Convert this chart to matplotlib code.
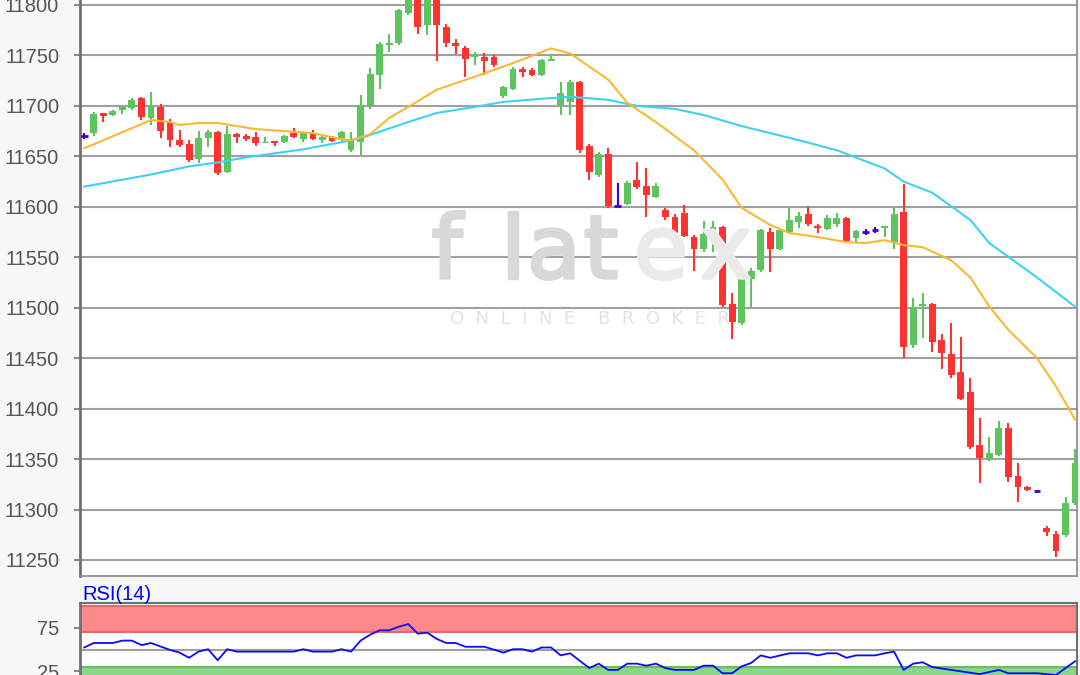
import matplotlib
matplotlib.use("Agg")
import matplotlib.pyplot as plt
import matplotlib.patheffects as pe

# candles (index 0 = first bar on the left)
opens = [11670, 11673, 11693, 11691, 11696, 11698, 11708, 11688, 11699, 11684,
         11666, 11662, 11647, 11668, 11674, 11634, 11672, 11670, 11669, 11663,
         11665, 11664, 11673, 11667, 11673, 11666, 11669, 11666, 11656, 11664,
         11700, 11731, 11760, 11762, 11792, 11810, 11780, 11808, 11778, 11762,
         11757, 11748, 11748, 11748, 11710, 11717, 11737, 11736, 11731, 11744,
         11701, 11704, 11724, 11660, 11632, 11652, 11601, 11603, 11627, 11621,
         11610, 11597, 11590, 11594, 11570, 11558, 11572, 11580, 11504, 11485,
         11528, 11537, 11575, 11558, 11575, 11585, 11593, 11581, 11578, 11583,
         11589, 11569, 11575, 11577, 11579, 11565, 11595, 11463, 11502, 11504,
         11468, 11454, 11436, 11416, 11364, 11350, 11354, 11381, 11333, 11322,
         11318, 11282, 11276, 11275, 11306]
highs = [11673, 11694, 11693, 11696, 11700, 11708, 11709, 11714, 11702, 11687,
         11676, 11666, 11675, 11676, 11675, 11680, 11673, 11672, 11674, 11669,
         11665, 11671, 11678, 11674, 11676, 11670, 11670, 11675, 11674, 11711,
         11738, 11763, 11771, 11796, 11818, 11815, 11812, 11812, 11781, 11766,
         11759, 11753, 11752, 11750, 11720, 11739, 11739, 11738, 11746, 11750,
         11724, 11726, 11725, 11662, 11654, 11658, 11624, 11626, 11644, 11638,
         11624, 11599, 11593, 11602, 11572, 11586, 11586, 11581, 11515, 11536,
         11539, 11578, 11579, 11578, 11600, 11595, 11600, 11583, 11592, 11594,
         11590, 11577, 11578, 11580, 11580, 11600, 11623, 11510, 11515, 11505,
         11474, 11485, 11471, 11430, 11391, 11372, 11388, 11386, 11346, 11323,
         11318, 11284, 11279, 11312, 11360]
lows = [11667, 11670, 11684, 11690, 11692, 11696, 11686, 11681, 11668, 11659,
        11659, 11644, 11643, 11659, 11632, 11633, 11663, 11665, 11660, 11663,
        11660, 11663, 11668, 11664, 11666, 11663, 11664, 11665, 11654, 11651,
        11697, 11717, 11753, 11760, 11790, 11771, 11770, 11744, 11758, 11751,
        11729, 11741, 11731, 11739, 11708, 11716, 11729, 11730, 11730, 11744,
        11691, 11691, 11653, 11627, 11630, 11599, 11600, 11602, 11618, 11590,
        11609, 11587, 11567, 11570, 11536, 11555, 11555, 11501, 11469, 11483,
        11501, 11535, 11535, 11557, 11574, 11579, 11581, 11574, 11577, 11580,
        11565, 11565, 11572, 11574, 11570, 11558, 11450, 11460, 11470, 11456,
        11439, 11430, 11409, 11360, 11326, 11348, 11353, 11327, 11307, 11318,
        11318, 11274, 11253, 11273, 11304]
closes = [11670, 11692, 11690, 11695, 11699, 11706, 11689, 11699, 11675, 11666,
          11661, 11646, 11668, 11674, 11633, 11672, 11669, 11667, 11663, 11664,
          11663, 11670, 11669, 11673, 11667, 11669, 11665, 11674, 11667, 11701,
          11732, 11761, 11762, 11795, 11812, 11778, 11806, 11780, 11762, 11759,
          11746, 11751, 11744, 11741, 11719, 11737, 11734, 11731, 11745, 11746,
          11713, 11724, 11656, 11634, 11652, 11601, 11601, 11624, 11620, 11612,
          11621, 11590, 11571, 11571, 11558, 11573, 11580, 11503, 11486, 11529,
          11536, 11577, 11558, 11577, 11587, 11591, 11583, 11579, 11589, 11589,
          11566, 11576, 11575, 11577, 11580, 11593, 11461, 11501, 11504, 11466,
          11455, 11433, 11410, 11362, 11351, 11356, 11381, 11332, 11322, 11319,
          11318, 11278, 11259, 11306, 11346]

# moving averages (bar index, value)
ma_fast_idx = [0, 7, 9, 10, 12, 14, 16, 18, 21, 24, 27, 28, 30, 32, 34, 37, 41, 44,
               46, 49, 51, 55, 57, 60, 64, 67, 69, 72, 74, 77, 80, 82, 84, 86, 88,
               91, 93, 95, 97, 100, 102, 104]
ma_fast = [11658, 11686, 11684, 11681, 11683, 11683, 11680, 11677, 11675, 11673,
           11667, 11666, 11672, 11688, 11699, 11716, 11729, 11739, 11746, 11757,
           11752, 11726, 11703, 11684, 11656, 11627, 11599, 11582, 11574, 11570,
           11565, 11564, 11567, 11562, 11560, 11547, 11530, 11501, 11478, 11450,
           11422, 11389]
ma_slow_idx = [0, 7, 11, 14, 17, 23, 27, 29, 34, 37, 41, 44, 48, 51, 55, 58, 62,
               65, 69, 75, 79, 84, 86, 89, 93, 95, 100, 104]
ma_slow = [11620, 11632, 11640, 11644, 11649, 11657, 11664, 11668, 11684, 11693,
           11699, 11704, 11707, 11709, 11706, 11700, 11697, 11691, 11680, 11666,
           11656, 11638, 11625, 11614, 11587, 11564, 11530, 11501]

# RSI(14)
rsi_idx = [0, 1, 3, 4, 5, 6, 7, 9, 10, 11, 12, 13, 14, 15, 16, 22, 23, 24, 26, 27,
           28, 29, 30, 31, 32, 33, 34, 35, 36, 37, 38, 39, 40, 42, 44, 45, 46, 47,
           48, 49, 50, 51, 53, 54, 55, 56, 57, 58, 59, 60, 61, 62, 64, 65, 66, 67,
           68, 69, 70, 71, 72, 74, 76, 77, 78, 79, 80, 81, 83, 84, 85, 86, 87, 88,
           89, 91, 94, 96, 97, 100, 102, 103, 104]
rsi = [52.3, 57.4, 57.4, 60.1, 60.1, 55, 57.4, 49.5, 46.5, 40.6, 47.6, 50.3, 37.8,
       50.3, 47.6, 47.6, 50.3, 47.6, 47.6, 50.3, 47.6, 60.1, 66.8, 71.8, 71.8, 75.8,
       78.9, 68, 69.1, 62, 57.4, 57.4, 53.1, 53.1, 46.5, 50.3, 50.3, 47.6, 52.3,
       52.3, 43.3, 45.7, 28.9, 33.9, 26.8, 26.8, 33.9, 33.9, 31.6, 33.9, 28.9, 26.8,
       26.8, 31.6, 31.6, 23, 23, 30.8, 34.7, 43.3, 40.6, 45.7, 45.7, 43.3, 45.7,
       45.7, 40.6, 43.3, 43.3, 45.7, 47.6, 26.8, 33.9, 35.5, 30, 26.8, 22, 26.8, 23,
       23, 21, 28.9, 36.6]

price_ticks = list(range(11250, 11801, 50))
rsi_ticks = [25, 75]

W, H = 1080, 675
GREEN = "#5ec45e"
RED = "#ff3232"
FLAT = "#3a00d0"
TICK_COL = "#555555"

plt.rcParams["font.family"] = ["Liberation Sans", "DejaVu Sans"]

fig = plt.figure(figsize=(W / 100, H / 100), dpi=100, facecolor="#f7f7f7")


def fbox(x0, y0, x1, y1):
    # pixel box (top-left origin) -> figure fraction
    return [x0 / W, 1 - y1 / H, (x1 - x0) / W, (y1 - y0) / H]


def fpt(x, y):
    return x / W, 1 - y / H


ax = fig.add_axes(fbox(80, -5, 1077, 576))
ax.set_facecolor("white")

# watermark behind the candles
ax.patch.set_alpha(0)
fig.patches.append(plt.Rectangle((80 / W, 1 - 576 / H), 997 / W, 576 / H,
                                 transform=fig.transFigure, facecolor="white",
                                 edgecolor="none", zorder=-1))
for ch, x, col in [("f", 447, "#d8d8d8"), ("l", 513, "#d8d8d8"), ("a", 554, "#d8d8d8"),
                   ("t", 601, "#d8d8d8"), ("e", 661, "#eaeaea"), ("x", 726, "#eaeaea")]:
    fig.text(*fpt(x, 278), ch, color=col, fontsize=63, ha="center", va="baseline",
             zorder=0, family="DejaVu Sans",
             path_effects=[pe.withStroke(linewidth=2.5, foreground=col)])
fig.text(*fpt(590, 324), "O  N  L  I  N  E    B  R  O  K  E  R", fontsize=13,
         color="#e3e3e3", ha="center", va="baseline", zorder=0, family="DejaVu Sans")

for y in price_ticks:
    ax.axhline(y, color="#a0a0a0", lw=1.5, zorder=1)

xs = range(len(opens))
for i in xs:
    o, h, l, c = opens[i], highs[i], lows[i], closes[i]
    col = GREEN if c > o else RED if c < o else FLAT
    ax.vlines(i, l, h, color=col, lw=1.5, zorder=3)
    if c == o:
        ax.hlines(c, i - 0.36, i + 0.36, color=col, lw=2, zorder=3)
    else:
        ax.bar(i, max(abs(c - o), 1.5), bottom=min(o, c), width=0.72, color=col,
               edgecolor="none", zorder=3)

ax.plot(ma_slow_idx, ma_slow, color="#3fd0f5", lw=1.5, zorder=4)
ax.plot(ma_fast_idx, ma_fast, color="#ffb733", lw=1.5, zorder=4)

ax.set_xlim(-0.45, 104.2)
ax.set_ylim(11234.1, 11809.9)
ax.set_yticks(price_ticks)
ax.set_xticks([])
ax.tick_params(axis="y", length=4, width=1.2, color="#777777", labelsize=14.5,
               labelcolor=TICK_COL, pad=11)
for s in ax.spines.values():
    s.set_color("#888888")
    s.set_linewidth(1.2)
ax.spines["left"].set_color("#707070")
ax.spines["left"].set_linewidth(2)

# RSI panel
rx = fig.add_axes(fbox(80, 603.4, 1077, 700))
rx.set_facecolor("white")
rx.axhspan(70, 100, facecolor="#ff8888", edgecolor="#e46a6a", lw=1.5, zorder=1)
rx.axhspan(-10, 30, facecolor="#8ad68a", edgecolor="#62c262", lw=1.5, zorder=1)
rx.axhline(50, color="#a0a0a0", lw=1.5, zorder=1)
rx.plot(rsi_idx, rsi, color="#0a0aff", lw=1.3, zorder=3)
rx.set_xlim(-0.45, 104.2)
rx.set_ylim(-7.4, 102.4)
rx.set_yticks(rsi_ticks)
rx.set_xticks([])
rx.tick_params(axis="y", length=4, width=1.2, color="#777777", labelsize=14.5,
               labelcolor=TICK_COL, pad=11)
for s in rx.spines.values():
    s.set_color("#707070")
    s.set_linewidth(1.5)
rx.spines["left"].set_linewidth(2)
fig.text(*fpt(82, 600), "RSI(14)", color="#0000ff", fontsize=14.5, ha="left",
         va="baseline")

fig.savefig("out.png", dpi=100, facecolor=fig.get_facecolor())
